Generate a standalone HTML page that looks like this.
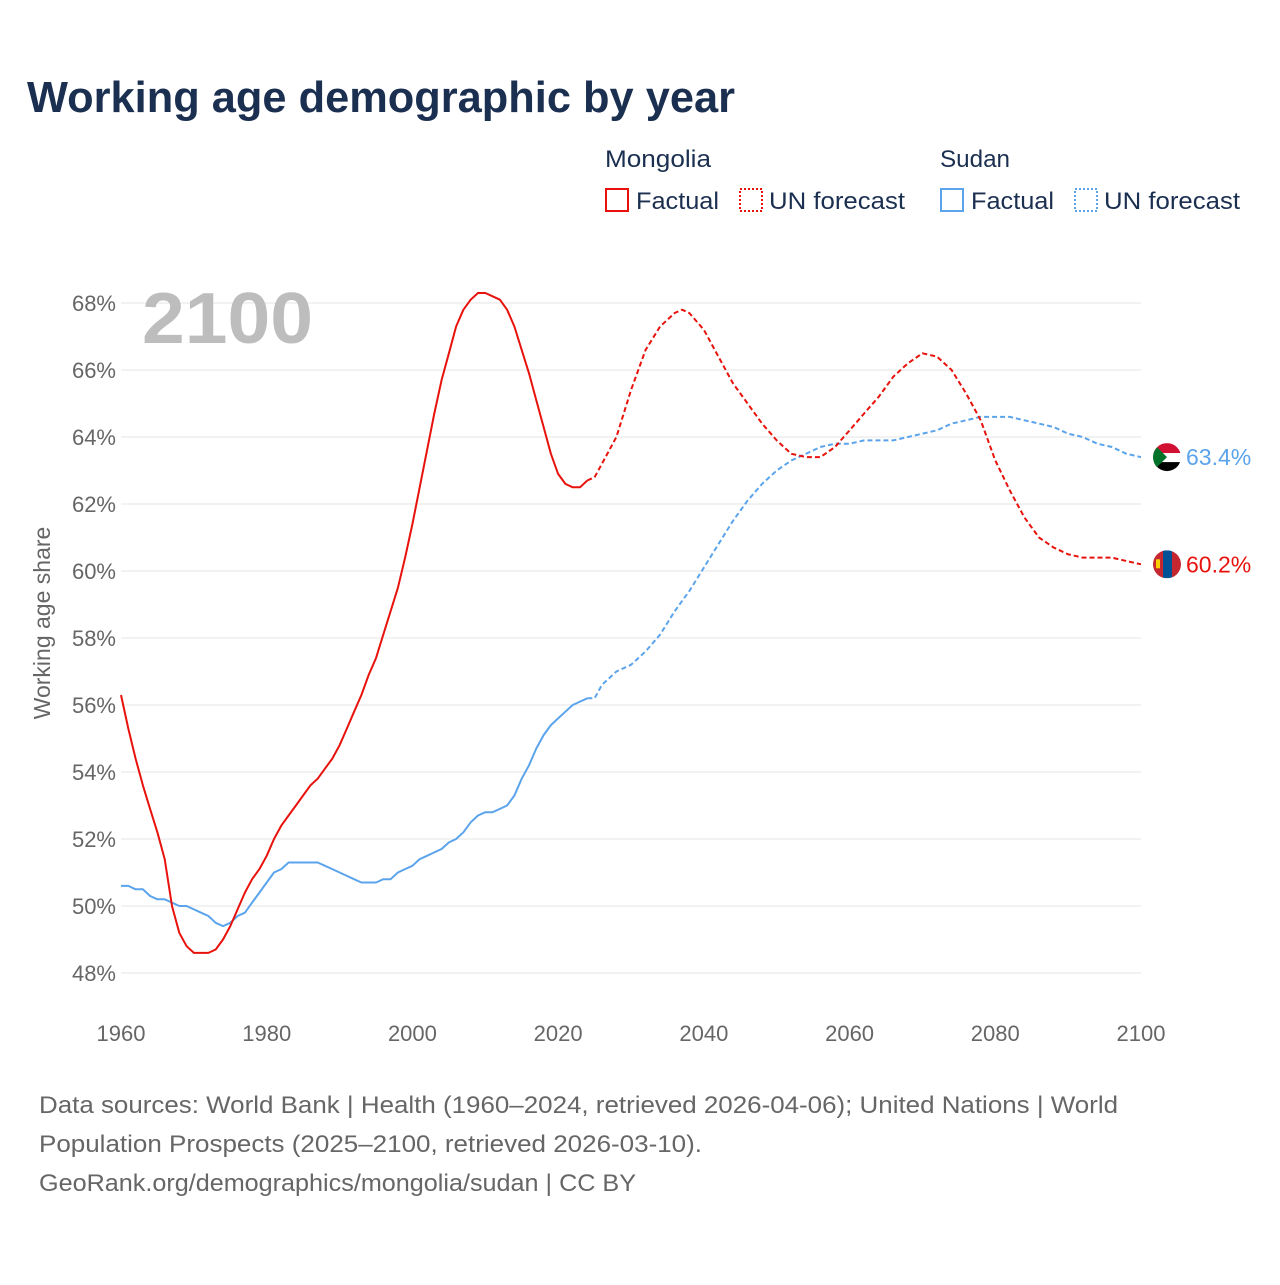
<!DOCTYPE html>
<html><head><meta charset="utf-8">
<style>
body{margin:0;background:#fff;font-family:"Liberation Sans",sans-serif;}
svg text{font-family:"Liberation Sans",sans-serif;}
</style></head>
<body>
<svg width="1280" height="1280" viewBox="0 0 1280 1280" xmlns="http://www.w3.org/2000/svg">
<text x="27" y="112" font-size="44" font-weight="bold" fill="#1b2f50" textLength="708" lengthAdjust="spacingAndGlyphs">Working age demographic by year</text>
<g font-size="24" fill="#1b2f50">
<text x="605" y="167" textLength="106" lengthAdjust="spacingAndGlyphs">Mongolia</text>
<rect x="606" y="189" width="22" height="22" fill="none" stroke="#e8120c" stroke-width="2"/>
<text x="636" y="209" textLength="83" lengthAdjust="spacingAndGlyphs">Factual</text>
<rect x="740" y="189" width="22" height="22" fill="none" stroke="#e8120c" stroke-width="2" stroke-dasharray="2,2"/>
<text x="769" y="209" textLength="136" lengthAdjust="spacingAndGlyphs">UN forecast</text>
<text x="940" y="167" textLength="70" lengthAdjust="spacingAndGlyphs">Sudan</text>
<rect x="941" y="189" width="22" height="22" fill="none" stroke="#5ba4ec" stroke-width="2"/>
<text x="971" y="209" textLength="83" lengthAdjust="spacingAndGlyphs">Factual</text>
<rect x="1075" y="189" width="22" height="22" fill="none" stroke="#5ba4ec" stroke-width="2" stroke-dasharray="2,2"/>
<text x="1104" y="209" textLength="136" lengthAdjust="spacingAndGlyphs">UN forecast</text>
</g>
<g id="grid"></g>
<text x="142" y="343" font-size="72" font-weight="bold" fill="#bdbdbd" textLength="171" lengthAdjust="spacingAndGlyphs">2100</text>
<text transform="translate(50,623) rotate(-90)" text-anchor="middle" font-size="23" fill="#666">Working age share</text>
<g id="plot"></g>
<g font-size="24" fill="#666">
<text x="39" y="1113" textLength="1079" lengthAdjust="spacingAndGlyphs">Data sources: World Bank | Health (1960–2024, retrieved 2026-04-06); United Nations | World</text>
<text x="39" y="1152" textLength="663" lengthAdjust="spacingAndGlyphs">Population Prospects (2025–2100, retrieved 2026-03-10).</text>
<text x="39" y="1191" textLength="597" lengthAdjust="spacingAndGlyphs">GeoRank.org/demographics/mongolia/sudan | CC BY</text>
</g>
</svg>
<script>
const yTicks=[48,50,52,54,56,58,60,62,64,66,68];
const xTicks=[1960,1980,2000,2020,2040,2060,2080,2100];
const mnFactYears=[];for(let y=1960;y<=2024;y++)mnFactYears.push(y);
const mnFact=[56.3,55.3,54.4,53.6,52.9,52.2,51.4,50.0,49.2,48.8,48.6,48.6,48.6,48.7,49.0,49.4,49.9,50.4,50.8,51.1,51.5,52.0,52.4,52.7,53.0,53.3,53.6,53.8,54.1,54.4,54.8,55.3,55.8,56.3,56.9,57.4,58.1,58.8,59.5,60.4,61.4,62.5,63.6,64.7,65.7,66.5,67.3,67.8,68.1,68.3,68.3,68.2,68.1,67.8,67.3,66.6,65.9,65.1,64.3,63.5,62.9,62.6,62.5,62.5,62.7];
const fcYears=[2024,2025,2026,2028,2030,2032,2034,2036,2037,2038,2040,2042,2044,2046,2048,2050,2052,2054,2056,2058,2060,2062,2064,2066,2068,2070,2072,2074,2076,2078,2080,2082,2084,2086,2088,2090,2092,2094,2096,2098,2100];
const mnFc=[62.7,62.8,63.2,64.0,65.4,66.6,67.3,67.7,67.8,67.7,67.2,66.4,65.6,65.0,64.4,63.9,63.5,63.4,63.4,63.7,64.2,64.7,65.2,65.8,66.2,66.5,66.4,66.0,65.3,64.5,63.3,62.4,61.6,61.0,60.7,60.5,60.4,60.4,60.4,60.3,60.2];
const sdFact=[50.6,50.6,50.5,50.5,50.3,50.2,50.2,50.1,50.0,50.0,49.9,49.8,49.7,49.5,49.4,49.5,49.7,49.8,50.1,50.4,50.7,51.0,51.1,51.3,51.3,51.3,51.3,51.3,51.2,51.1,51.0,50.9,50.8,50.7,50.7,50.7,50.8,50.8,51.0,51.1,51.2,51.4,51.5,51.6,51.7,51.9,52.0,52.2,52.5,52.7,52.8,52.8,52.9,53.0,53.3,53.8,54.2,54.7,55.1,55.4,55.6,55.8,56.0,56.1,56.2];
const sdFc=[56.2,56.2,56.6,57.0,57.2,57.6,58.1,58.8,59.1,59.4,60.1,60.8,61.5,62.1,62.6,63.0,63.3,63.5,63.7,63.8,63.8,63.9,63.9,63.9,64.0,64.1,64.2,64.4,64.5,64.6,64.6,64.6,64.5,64.4,64.3,64.1,64.0,63.8,63.7,63.5,63.4];
const NS="http://www.w3.org/2000/svg";
const X=y=>121+(y-1960)*(1020/140), Y=v=>973-(v-48)*33.5;
const grid=document.getElementById('grid'),plot=document.getElementById('plot');
function mk(t,a,p){const e=document.createElementNS(NS,t);for(const k in a)e.setAttribute(k,a[k]);p.appendChild(e);return e;}
yTicks.forEach(v=>{
 const l=mk('line',{x1:121,x2:1141,y1:Y(v),y2:Y(v),stroke:'#e6e6e6','stroke-width':1},grid);
 
 
 const t=mk('text',{x:116,y:Y(v)+8,'text-anchor':'end','font-size':22,fill:'#666'},grid);t.textContent=v+'%';
 
 
});
xTicks.forEach(v=>{
 const t=mk('text',{x:X(v),y:1041,'text-anchor':'middle','font-size':22,fill:'#666'},grid);t.textContent=v;
 
 
});
function line(xs,vs,col,dash,name){
 const d=xs.map((x,i)=>(i?'L':'M')+X(x).toFixed(1)+','+Y(vs[i]).toFixed(1)).join('');
 const p=mk('path',{d:d,fill:'none',stroke:col,'stroke-width':2,'stroke-dasharray':dash||'none','stroke-linejoin':'round'},plot);
 
 
}
line(mnFactYears,sdFact,'#5ba4ec',null,'sudan-factual-line');
line(fcYears,sdFc,'#5ba4ec','5,3','sudan-forecast-line');
line(mnFactYears,mnFact,'#e8120c',null,'mongolia-factual-line');
line(fcYears,mnFc,'#e8120c','5,3','mongolia-forecast-line');
function flag(v,kind,col,name){
 const cx=1167,cy=Y(v);
 const g=mk('g',{},plot);
 
 
 const id='c'+kind;
 const cp=mk('clipPath',{id:id},g);mk('circle',{cx:cx,cy:cy,r:14},cp);
 const h=mk('g',{'clip-path':'url(#'+id+')'},g);
 if(kind==='sd'){
  mk('rect',{x:cx-14,y:cy-14,width:28,height:10,fill:'#d21034'},h);
  mk('rect',{x:cx-14,y:cy-4,width:28,height:9,fill:'#fff'},h);
  mk('rect',{x:cx-14,y:cy+5,width:28,height:10,fill:'#000'},h);
  mk('polygon',{points:(cx-14)+','+(cy-14)+' '+(cx)+','+cy+' '+(cx-14)+','+(cy+14),fill:'#007229'},h);
 }else{
  mk('rect',{x:cx-14,y:cy-14,width:10,height:28,fill:'#c4272f'},h);
  mk('rect',{x:cx-4,y:cy-14,width:9,height:28,fill:'#015197'},h);
  mk('rect',{x:cx+5,y:cy-14,width:10,height:28,fill:'#c4272f'},h);
  mk('rect',{x:cx-11,y:cy-5,width:4,height:9,fill:'#f9cf02'},h);
 }
 const t=mk('text',{x:1186,y:cy+8,'font-size':23,fill:col},plot);t.textContent=v.toFixed(1)+'%';
 
 
}
flag(sdFc[sdFc.length-1],'sd','#5ba4ec','sudan');
flag(mnFc[mnFc.length-1],'mn','#e8120c','mongolia');
</script>
</body></html>
